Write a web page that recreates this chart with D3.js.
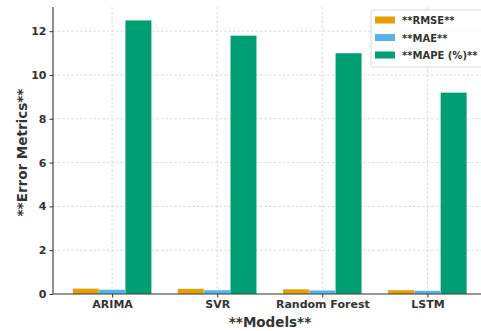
<!DOCTYPE html>
<html><head><meta charset="utf-8">
<script src="https://cdn.jsdelivr.net/npm/d3@7"></script>
<style>body{margin:0;background:#fff}svg{display:block;font-family:"DejaVu Sans",sans-serif}</style>
</head><body>
<script>
const models = ["ARIMA", "SVR", "Random Forest", "LSTM"];
const seriesNames = ["**RMSE**", "**MAE**", "**MAPE (%)**"];
const rmse = [0.25, 0.24, 0.22, 0.18];
const mae = [0.20, 0.18, 0.17, 0.15];
const mape = [12.5, 11.8, 11.0, 9.2];
const colors = ["#E69F00", "#56B4E9", "#009E73"];
const yTicks = [0, 2, 4, 6, 8, 10, 12];

const W = 481, H = 331;
const svg = d3.select("body").append("svg").attr("width", W).attr("height", H);
const series = [rmse, mae, mape];
const bw = 0.25;
const x = d3.scaleLinear().domain([-0.5625, 3.5625]).range([53, 486.5]);
const y = d3.scaleLinear().domain([0, 13.1]).range([294, 7.1]);

// grid
const g = svg.append("g");
g.selectAll(".gy").data(yTicks.slice(1)).join("line")
  .attr("x1", x(-0.5625)).attr("x2", W).attr("y1", d => y(d)).attr("y2", d => y(d))
  .attr("stroke", "#cfcfcf").attr("stroke-width", 0.8).attr("stroke-dasharray", "2.5,2");
g.selectAll(".gx").data(models.map((d, i) => i)).join("line")
  .attr("x1", d => x(d)).attr("x2", d => x(d)).attr("y1", y(13.1)).attr("y2", y(0))
  .attr("stroke", "#cfcfcf").attr("stroke-width", 0.8).attr("stroke-dasharray", "2.5,2");

// bars
series.forEach((vals, s) => {
  svg.append("g").selectAll("rect").data(vals).join("rect")
    .attr("x", (d, i) => x(i + (s - 1) * bw - bw / 2))
    .attr("width", x(bw) - x(0))
    .attr("y", d => y(d)).attr("height", d => y(0) - y(d))
    .attr("fill", colors[s]).attr("stroke", "#ffffff").attr("stroke-opacity", 0.4).attr("stroke-width", 0.6);
});

// axes
const yAxis = d3.axisLeft(y).tickValues(yTicks).tickSize(3.5).tickPadding(3).tickFormat(d3.format("d"));
const ya = svg.append("g").attr("transform", `translate(${x(-0.5625)},0)`).call(yAxis);
ya.select(".domain").attr("stroke", "#333").attr("stroke-width", 1.1).attr("d", `M0,${y(13.1)}V${y(0)}`);
ya.selectAll(".tick line").attr("stroke", "#333");
ya.selectAll("text").attr("font-size", 11).attr("font-weight", "bold").attr("fill", "#333").attr("font-family", "DejaVu Sans");

const xAxis = d3.axisBottom(x).tickValues([0, 1, 2, 3]).tickFormat(i => models[i]).tickSize(3.5).tickPadding(2.5);
const xa = svg.append("g").attr("transform", `translate(0,${y(0)})`).call(xAxis);
xa.select(".domain").attr("stroke", "#333").attr("stroke-width", 1.1).attr("d", `M${x(-0.5625)},0H${W}`);
xa.selectAll(".tick line").attr("stroke", "#333");
xa.selectAll("text").attr("font-size", 11).attr("font-weight", "bold").attr("fill", "#333").attr("font-family", "DejaVu Sans");

svg.append("text").attr("x", 270).attr("y", 327).attr("text-anchor", "middle")
  .attr("font-size", 13.5).attr("font-weight", "bold").attr("fill", "#333").text("**Models**");
svg.append("text").attr("transform", `translate(27,${(y(0) + y(13.1)) / 2 + 2}) rotate(-90)`).attr("text-anchor", "middle")
  .attr("font-size", 13.5).attr("font-weight", "bold").attr("fill", "#333").text("**Error Metrics**");

// legend
const lg = svg.append("g").attr("transform", "translate(371,10)");
lg.append("rect").attr("x", 0).attr("y", 0).attr("width", 130).attr("height", 57).attr("rx", 2)
  .attr("fill", "#fff").attr("fill-opacity", 0.85).attr("stroke", "#d0d0d0").attr("stroke-width", 0.8);
seriesNames.forEach((n, i) => {
  lg.append("rect").attr("x", 4).attr("y", 6.5 + i * 17.5).attr("width", 20).attr("height", 7).attr("fill", colors[i]);
  lg.append("text").attr("x", 31).attr("y", 14 + i * 17.5).attr("font-size", 10).attr("font-weight", "bold")
    .attr("fill", "#333").text(n);
});
</script>
</body></html>
